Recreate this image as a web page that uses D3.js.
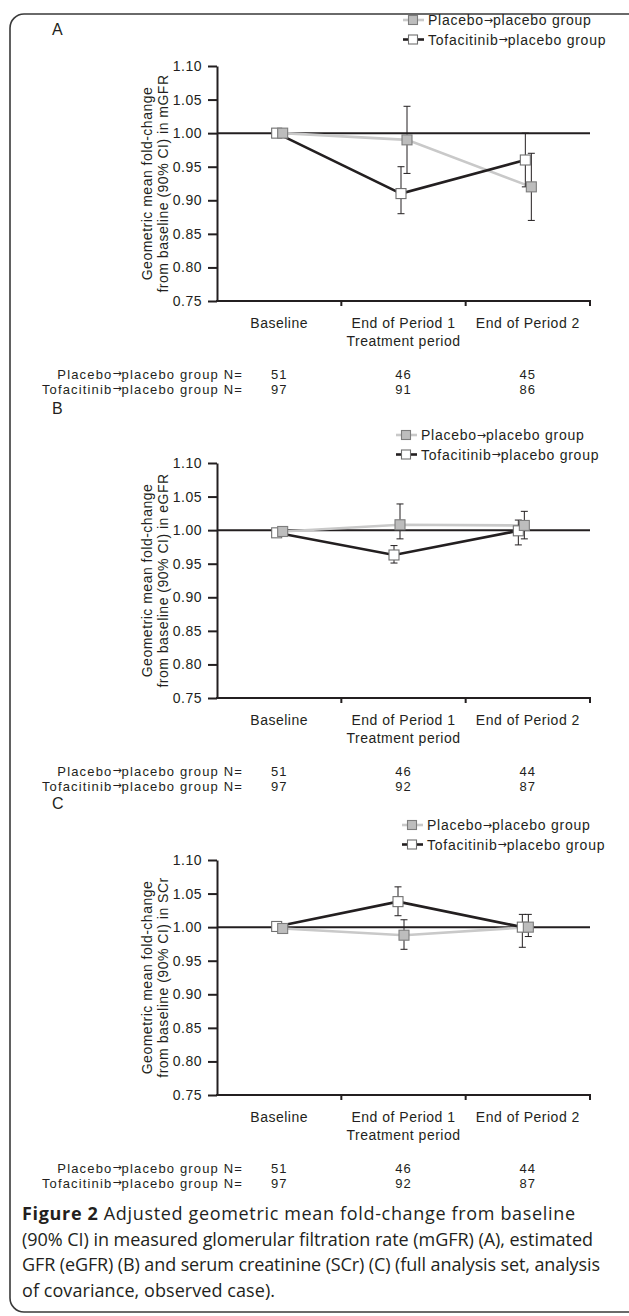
<!DOCTYPE html>
<html><head><meta charset="utf-8">
<script src="https://cdn.jsdelivr.net/npm/d3@7"></script>
<style>
body{margin:0;background:#fff}
svg{display:block}
text{font-family:"Liberation Sans",Arial,Helvetica,sans-serif;fill:#231f20}
.cap text{font-family:"Open Sans","Noto Sans",sans-serif}
</style>
</head><body>
<svg id="c" width="629" height="1316"></svg>
<script>
// ---------- data ----------
const categories = ["Baseline", "End of Period 1", "End of Period 2"];
const seriesNames = ["Placebo\u2192placebo group", "Tofacitinib\u2192placebo group"];
const yTicks = [0.75, 0.80, 0.85, 0.90, 0.95, 1.00, 1.05, 1.10];
const panelLabels = ["A", "B", "C"];
const yTitleLine1 = "Geometric mean fold-change";
const yTitleLine2 = ["from baseline (90% CI) in mGFR", "from baseline (90% CI) in eGFR", "from baseline (90% CI) in SCr"];
const xTitle = "Treatment period";
const nRowLabels = ["Placebo\u2192placebo group N=", "Tofacitinib\u2192placebo group N="];

// Panel A: mGFR
const mgfrPlacebo   = [1.00, 0.99, 0.92];
const mgfrPlaceboLo = [1.00, 0.94, 0.87];
const mgfrPlaceboHi = [1.00, 1.04, 0.97];
const mgfrTofa      = [1.00, 0.91, 0.96];
const mgfrTofaLo    = [1.00, 0.88, 0.92];
const mgfrTofaHi    = [1.00, 0.95, 1.00];
const mgfrNPlacebo  = [51, 46, 45];
const mgfrNTofa     = [97, 91, 86];

// Panel B: eGFR
const egfrPlacebo   = [0.998, 1.008, 1.007];
const egfrPlaceboLo = [0.998, 0.987, 0.987];
const egfrPlaceboHi = [0.998, 1.039, 1.028];
const egfrTofa      = [0.996, 0.963, 0.999];
const egfrTofaLo    = [0.996, 0.951, 0.978];
const egfrTofaHi    = [0.996, 0.977, 1.015];
const egfrNPlacebo  = [51, 46, 44];
const egfrNTofa     = [97, 92, 87];

// Panel C: SCr
const scrPlacebo   = [0.998, 0.988, 1.000];
const scrPlaceboLo = [0.998, 0.967, 0.986];
const scrPlaceboHi = [0.998, 1.011, 1.019];
const scrTofa      = [1.001, 1.038, 1.000];
const scrTofaLo    = [1.001, 1.017, 0.970];
const scrTofaHi    = [1.001, 1.060, 1.019];
const scrNPlacebo  = [51, 46, 44];
const scrNTofa     = [97, 92, 87];

const captionBold = "Figure 2";
const captionLines = [
  " Adjusted geometric mean fold-change from baseline",
  "(90% CI) in measured glomerular filtration rate (mGFR) (A), estimated",
  "GFR (eGFR) (B) and serum creatinine (SCr) (C) (full analysis set, analysis",
  "of covariance, observed case)."
];
const captionWidths = [553, 571, 578, 253];

// ---------- layout / style ----------
const panels = [
  {top: 66,  labelY: 29,  legX: 428, legY: 20, shift: 0,
   p: [mgfrPlacebo, mgfrPlaceboLo, mgfrPlaceboHi], t: [mgfrTofa, mgfrTofaLo, mgfrTofaHi],
   nP: mgfrNPlacebo, nT: mgfrNTofa},
  {top: 463, labelY: 408, legX: 421, legY: 435, shift: -7,
   p: [egfrPlacebo, egfrPlaceboLo, egfrPlaceboHi], t: [egfrTofa, egfrTofaLo, egfrTofaHi],
   nP: egfrNPlacebo, nT: egfrNTofa},
  {top: 860, labelY: 803, legX: 427, legY: 825, shift: -3,
   p: [scrPlacebo, scrPlaceboLo, scrPlaceboHi], t: [scrTofa, scrTofaLo, scrTofaHi],
   nP: scrNPlacebo, nT: scrNTofa}
];
const plotH = 235;
const FS = 14;
const LS = "0.5px";
const dark = "#231f20";
const styles = {
  placebo: {line: "#c9c9c9", fill: "#bdbdbd", stroke: "#7d7d7d", dx: 3.5},
  tofa:    {line: "#231f20", fill: "#ffffff", stroke: "#6f6f6f", dx: -2.5}
};

function arrowText(sel, str) {
  const parts = str.split("\u2192");
  sel.append("tspan").text(parts[0]);
  sel.append("tspan").attr("dy", -1.5).style("font-family", "DejaVu Sans, sans-serif").style("font-size", "11px").style("letter-spacing", "0px").text("\u2192");
  sel.append("tspan").attr("dy", 1.5).text(parts[1]);
}
const txt = (sel, size, ls) => sel.style("font-size", (size || FS) + "px").style("letter-spacing", ls || LS);

const svg = d3.select("#c");
svg.append("rect").attr("x", 10).attr("y", 14).attr("width", 700).attr("height", 1298)
  .attr("rx", 14).attr("fill", "none").attr("stroke", "#3a3a3a").attr("stroke-width", 1.6);

const x = d3.scaleBand().domain(categories).range([217, 590]).padding(0);
const cx = c => x(c) + x.bandwidth() / 2;

panels.forEach((P, pi) => {
  const g = svg.append("g");
  const y = d3.scaleLinear().domain([0.75, 1.10]).range([P.top + plotH, P.top]);
  const base = P.top + plotH;

  g.append("text").attr("x", 52).attr("y", P.labelY).attr("dy", "0.35em")
    .style("font-size", "16px").text(panelLabels[pi]);

  // y axis
  const ya = g.append("g").attr("transform", "translate(217,0)")
    .call(d3.axisLeft(y).tickValues(yTicks).tickFormat(d3.format(".2f")).tickSize(9).tickSizeOuter(0).tickPadding(6));
  ya.select(".domain").attr("stroke", dark).attr("stroke-width", 2);
  ya.selectAll(".tick line").attr("stroke", dark).attr("stroke-width", 2);
  txt(ya.selectAll(".tick text").attr("fill", dark).style("font-family", "Liberation Sans, Arial, sans-serif"));

  // y title
  const ty = P.top + plotH / 2;
  txt(g.append("text").attr("transform", `translate(147,${ty}) rotate(-90)`).attr("text-anchor", "middle")
    .attr("dy", "0.35em")).text(yTitleLine1);
  txt(g.append("text").attr("transform", `translate(163,${ty}) rotate(-90)`).attr("text-anchor", "middle")
    .attr("dy", "0.35em")).text(yTitleLine2[pi]);

  // x axis
  const xa = g.append("g").attr("transform", `translate(0,${base})`)
    .call(d3.axisBottom(x).tickSize(0).tickSizeOuter(0).tickPadding(17));
  xa.select(".domain").attr("stroke", dark).attr("stroke-width", 2).attr("d", `M216,0H591`);
  txt(xa.selectAll(".tick text").attr("fill", dark).style("font-family", "Liberation Sans, Arial, sans-serif"));
  g.selectAll(".bt").data(categories).join("line")
    .attr("x1", c => x(c) + x.bandwidth()).attr("x2", c => x(c) + x.bandwidth())
    .attr("y1", base).attr("y2", base + 5)
    .attr("stroke", dark).attr("stroke-width", 2);

  txt(g.append("text").attr("x", cx(categories[1])).attr("y", base + 40).attr("dy", "0.35em").attr("text-anchor", "middle"))
    .text(xTitle);

  // reference line at 1.00
  g.append("line").attr("x1", 217).attr("x2", 590).attr("y1", y(1)).attr("y2", y(1))
    .attr("stroke", dark).attr("stroke-width", 2);

  const series = [
    {key: "placebo", v: P.p[0], lo: P.p[1], hi: P.p[2]},
    {key: "tofa", v: P.t[0], lo: P.t[1], hi: P.t[2]}
  ];
  const pts = s => categories.map((c, i) => ({
    x: cx(c) + styles[s.key].dx + (i > 0 ? P.shift : 0), v: s.v[i], lo: s.lo[i], hi: s.hi[i]}));

  series.forEach(s => {
    g.append("path").datum(pts(s))
      .attr("d", d3.line().x(d => d.x).y(d => y(d.v)))
      .attr("fill", "none").attr("stroke", styles[s.key].line).attr("stroke-width", 2.6);
  });
  series.forEach(s => {
    const eb = g.append("g");
    pts(s).filter(d => d.hi !== d.lo).forEach(d => {
      eb.append("line").attr("x1", d.x).attr("x2", d.x).attr("y1", y(d.lo)).attr("y2", y(d.hi)).attr("stroke", dark).attr("stroke-width", 1);
      [d.lo, d.hi].forEach(e => eb.append("line").attr("x1", d.x - 3.5).attr("x2", d.x + 3.5).attr("y1", y(e)).attr("y2", y(e)).attr("stroke", dark).attr("stroke-width", 1));
    });
  });
  [series[1], series[0]].forEach(s => {
    g.selectAll(null).data(pts(s)).join("rect")
      .attr("x", d => d.x - 5).attr("y", d => y(d.v) - 5).attr("width", 10).attr("height", 10)
      .attr("fill", styles[s.key].fill).attr("stroke", styles[s.key].stroke).attr("stroke-width", 1.1);
  });

  // legend
  ["placebo", "tofa"].forEach((k, i) => {
    const ly = P.legY + i * 19.5;
    g.append("line").attr("x1", P.legX - 25).attr("x2", P.legX - 4).attr("y1", ly).attr("y2", ly)
      .attr("stroke", styles[k].line).attr("stroke-width", 2.6);
    g.append("rect").attr("x", P.legX - 19.5).attr("y", ly - 4.5).attr("width", 9).attr("height", 9)
      .attr("fill", styles[k].fill).attr("stroke", styles[k].stroke).attr("stroke-width", 1.1);
    const t = txt(g.append("text").attr("x", P.legX).attr("y", ly + 5), FS, "0.75px");
    arrowText(t, seriesNames[i]);
  });

  // N rows
  [P.nP, P.nT].forEach((arr, i) => {
    const ry = base + 73 + i * 15;
    const t = txt(g.append("text").attr("x", 243).attr("y", ry + 4.8).attr("text-anchor", "end"), 13, "1.15px");
    arrowText(t, nRowLabels[i]);
    txt(g.selectAll(null).data(arr).join("text")
      .attr("x", (d, j) => cx(categories[j])).attr("y", ry).attr("dy", "0.35em").attr("text-anchor", "middle"), 13, "1px")
      .text(d => d);
  });
});

// caption
const cap = svg.append("g").attr("class", "cap");
captionLines.forEach((l, i) => {
  const t = cap.append("text").attr("x", 22).attr("y", 1220 + i * 25.7).style("font-size", "18px").attr("fill", dark)
    .attr("textLength", captionWidths[i]).attr("lengthAdjust", "spacing");
  if (i === 0) t.append("tspan").style("font-weight", "700").text(captionBold);
  t.append("tspan").text(l);
});
</script>
</body></html>
